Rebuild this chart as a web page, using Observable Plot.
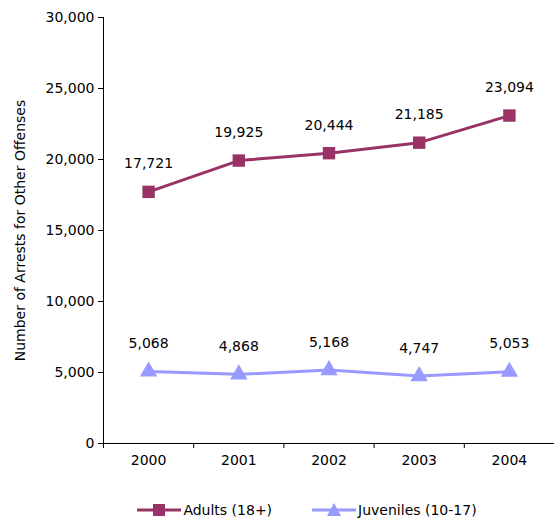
<!DOCTYPE html>
<html>
<head>
<meta charset="utf-8">
<script src="https://cdn.jsdelivr.net/npm/d3@7"></script>
<script src="https://cdn.jsdelivr.net/npm/@observablehq/plot@0.6"></script>
<style>
  body { margin: 0; background: #fff; font-family: "DejaVu Sans", sans-serif; }
  #legend { display: flex; justify-content: center; gap: 40px; font-size: 14px; margin-top: 22px; padding-left: 60px; }
  #legend span { display: flex; align-items: center; gap: 2px; }
</style>
</head>
<body>
<div id="chart"></div>
<div id="legend"></div>
<script>
const years = [2000, 2001, 2002, 2003, 2004]
const adults = [17721, 19925, 20444, 21185, 23094]
const juveniles = [5068, 4868, 5168, 4747, 5053]
const yTicks = [0, 5000, 10000, 15000, 20000, 25000, 30000]
const seriesNames = ["Adults (18+)", "Juveniles (10-17)"]
const colors = ["#993366", "#9999ff"]

const rows = years.flatMap((y, i) => [
  {year: y, value: adults[i], s: seriesNames[0]},
  {year: y, value: juveniles[i], s: seriesNames[1]}
])
const fmt = d3.format(",")

const chart = Plot.plot({
  width: 554, height: 480,
  marginLeft: 103, marginRight: 0, marginTop: 17, marginBottom: 37,
  style: {fontFamily: "DejaVu Sans, sans-serif", fontSize: "14px", color: "#000"},
  x: {type: "linear", domain: [1999.5, 2004.5]},
  y: {domain: [0, 30000]},
  marks: [
    Plot.axisY({ticks: yTicks, tickSize: 5, tickFormat: fmt, label: "Number of Arrests for Other Offenses", labelAnchor: "center", labelArrow: "none", labelOffset: 88, fontSize: 14}),
    Plot.axisX({ticks: [1999.5, 2000.5, 2001.5, 2002.5, 2003.5, 2004.5], tickFormat: () => "", tickSize: 5, label: null}),
    Plot.axisX({ticks: years, tickFormat: d => String(d), tickSize: 0, tickPadding: 12, label: null, fontSize: 14}),
    Plot.ruleX([1999.5], {stroke: "#000"}),
    Plot.ruleY([0], {stroke: "#000"}),
    Plot.line(rows, {x: "year", y: "value", z: "s", stroke: d => d.s === seriesNames[0] ? colors[0] : colors[1], strokeWidth: 3}),
    Plot.dot(rows.filter(d => d.s === seriesNames[0]), {x: "year", y: "value", symbol: "square", r: 7, fill: colors[0]}),
    Plot.dot(rows.filter(d => d.s === seriesNames[1]), {x: "year", y: "value", symbol: "triangle", r: 6.5, fill: colors[1]}),
    Plot.text(rows, {x: "year", y: "value", text: d => fmt(d.value), dy: -28, fontSize: 14})
  ]
})
document.getElementById("chart").append(chart)

const legend = d3.select("#legend")
legend.append("span").html(`<svg width="44" height="14"><line x1="0" x2="44" y1="7" y2="7" stroke="${colors[0]}" stroke-width="3"/><rect x="16" y="1" width="12" height="12" fill="${colors[0]}"/></svg>${seriesNames[0]}`)
legend.append("span").html(`<svg width="44" height="14"><line x1="0" x2="44" y1="7" y2="7" stroke="${colors[1]}" stroke-width="3"/><polygon points="22,0 29,13 15,13" fill="${colors[1]}"/></svg>${seriesNames[1]}`)
</script>
</body>
</html>
